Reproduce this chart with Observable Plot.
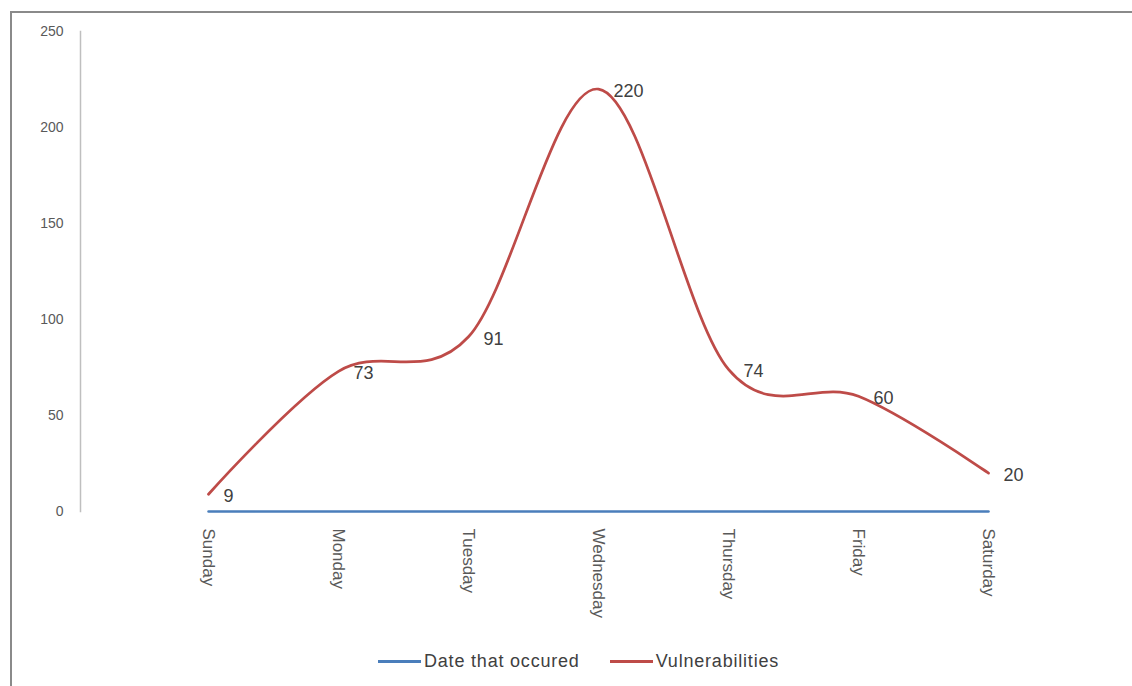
<!DOCTYPE html>
<html>
<head>
<meta charset="utf-8">
<script src="https://cdn.jsdelivr.net/npm/d3@7"></script>
<script src="https://cdn.jsdelivr.net/npm/@observablehq/plot@0.6"></script>
<style>
  html, body { margin: 0; padding: 0; background: #fff; }
  #wrap { position: relative; width: 1132px; height: 686px; overflow: hidden; background: #fff; }
  #border { position: absolute; left: 10px; top: 11px; width: 1200px; height: 800px;
            border-left: 2px solid #8a8a8a; border-top: 2px solid #8a8a8a; }
  #chart { position: absolute; left: 0; top: 0; }
  #legend { position: absolute; left: 378px; top: 650px; height: 22px; display: flex; align-items: center;
            font-family: "Liberation Sans", Arial, sans-serif; font-size: 18px; letter-spacing: 0.8px; color: #404040; }
  .item { display: flex; align-items: center; }
  .swatch { width: 43px; height: 3px; margin-right: 3px; }
</style>
</head>
<body>
<div id="wrap">
  <div id="border"></div>
  <div id="chart"></div>
  <div id="legend"></div>
</div>
<script>
const days = ["Sunday", "Monday", "Tuesday", "Wednesday", "Thursday", "Friday", "Saturday"];
const vulnerabilities = [9, 73, 91, 220, 74, 60, 20];
const dateOccured = [0, 0, 0, 0, 0, 0, 0];
const yTicks = [0, 50, 100, 150, 200, 250];
const seriesNames = ["Date that occured", "Vulnerabilities"];
const seriesColors = ["#4A7EBB", "#BE4B48"];

const vulnData = days.map((d, i) => ({day: d, value: vulnerabilities[i]}));
const dateData = days.map((d, i) => ({day: d, value: dateOccured[i]}));

const chart = Plot.plot({
  width: 1132,
  height: 640,
  marginLeft: 80,
  marginRight: 20,
  marginTop: 31,
  marginBottom: 129,
  style: {background: "transparent", fontFamily: "Liberation Sans, Arial, sans-serif"},
  x: {type: "point", domain: days, range: [208, 988], padding: 0},
  y: {domain: [0, 250]},
  marks: [
    Plot.frame({anchor: "left", stroke: "#bfbfbf", strokeWidth: 1.5}),
    Plot.axisY({ticks: yTicks, tickSize: 0, tickPadding: 17, fontSize: 14, color: "#595959", label: null}),
    Plot.axisX({tickSize: 0, tickPadding: 17, tickRotate: 90, fontSize: 17, color: "#595959", label: null}),
    Plot.line(dateData, {x: "day", y: "value", stroke: seriesColors[0], strokeWidth: 2.5}),
    Plot.line(vulnData, {x: "day", y: "value", stroke: seriesColors[1], strokeWidth: 2.75, curve: "cardinal"}),
    Plot.text(vulnData, {x: "day", y: "value", text: d => String(d.value), textAnchor: "start", dx: 15, dy: 2,
      fontSize: 18, fill: "#404040"})
  ]
});
document.getElementById("chart").appendChild(chart);

const legend = document.getElementById("legend");
seriesNames.forEach((name, i) => {
  const item = document.createElement("div");
  item.className = "item";
  if (i > 0) item.style.marginLeft = "30px";
  const sw = document.createElement("div");
  sw.className = "swatch";
  sw.style.background = seriesColors[i];
  const label = document.createElement("span");
  label.textContent = name;
  item.appendChild(sw);
  item.appendChild(label);
  legend.appendChild(item);
});
</script>
</body>
</html>
